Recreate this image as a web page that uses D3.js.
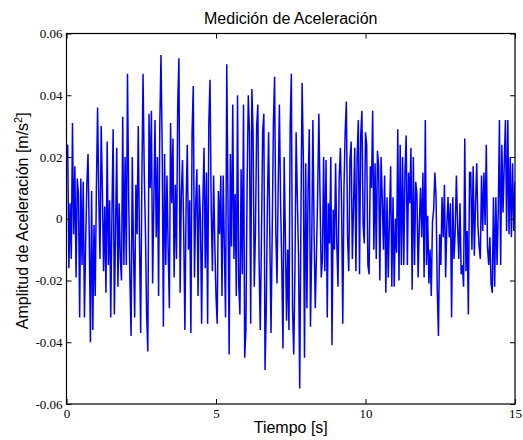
<!DOCTYPE html>
<html>
<head>
<meta charset="utf-8">
<script src="https://cdn.jsdelivr.net/npm/d3@7"></script>
<style>
  html, body { margin: 0; padding: 0; background: #fff; }
  svg { display: block; }
</style>
</head>
<body>
<svg id="chart" width="523" height="440"></svg>
<script>
// ---- data ----
const titleText = "Medición de Aceleración";
const xLabelText = "Tiempo [s]";
const sampleStep = 0.04;          // seconds between samples
const xTicks = [0, 5, 10, 15];
const yTicks = [-0.06, -0.04, -0.02, 0, 0.02, 0.04, 0.06];
const xDomain = [0, 15];
const yDomain = [-0.06, 0.06];
// acceleration amplitude [m/s^2], one value every 0.04 s from 0 to 15 s
const accel = [
  // 0 s
  .020,.024,-.016,.005,-.013,.031,-.005,.017,-.019,.013,.008,-.032,.013,-.015,.012,-.032,-.008,.011,.021,-.005,-.040,.009,-.036,-.002,-.025,
  // 1 s
  .010,.036,.007,-.013,.030,.009,-.017,.004,-.024,.025,-.015,.006,-.032,.002,.029,-.031,-.004,.023,-.022,.005,-.013,-.020,.033,-.015,.020,
  // 2 s
  -.015,.047,.007,-.019,-.038,.020,-.010,-.032,.011,-.005,.030,-.006,-.037,.012,.047,.015,-.004,-.031,-.043,.034,.010,.035,-.021,.005,.032,
  // 3 s
  -.006,.020,-.025,.030,.053,.023,-.035,.021,-.015,.014,-.010,-.029,.031,.005,.026,-.019,.011,-.013,.037,.052,-.024,.008,.019,-.004,-.036,
  // 4 s
  .005,.024,-.010,.006,-.037,.028,.043,-.019,.004,.016,-.025,.011,.000,-.034,.005,.023,-.016,.015,-.034,.031,.045,.003,-.017,.014,-.008,
  // 5 s
  -.025,-.034,.009,-.005,.014,-.025,.014,-.010,-.032,.050,.007,-.044,.021,-.009,.037,-.013,.008,-.025,.040,-.021,-.031,.016,-.018,.037,-.045,
  // 6 s
  -.036,.010,.040,.028,-.034,.042,.028,-.022,-.004,.030,.037,-.013,-.036,-.007,.028,.034,-.049,-.030,.005,.028,-.006,-.037,-.004,.031,.046,
  // 7 s
  -.004,-.021,.010,.037,.005,-.015,-.042,.020,-.006,-.033,-.010,-.036,.030,.047,-.029,-.044,-.017,.028,.007,-.012,-.055,.000,.044,.020,-.045,
  // 8 s
  .018,-.029,.010,.029,-.035,-.010,.032,-.004,-.029,-.012,.008,.034,.007,-.019,-.013,.020,-.017,.019,-.032,.005,-.008,.020,-.041,.003,-.010,
  // 9 s
  .018,-.008,-.022,.013,.023,.005,-.034,.010,.028,.038,-.006,-.017,.019,.025,-.013,.004,.023,-.017,.020,.032,-.018,.027,.035,-.002,-.008,
  // 10 s
  .028,.024,-.015,-.018,.017,.010,.035,-.010,.018,-.013,.022,.017,-.020,.020,.007,-.010,.014,-.024,.007,-.019,.000,.017,-.022,.007,-.022,
  // 11 s
  .000,-.011,.029,-.020,.024,-.015,.020,-.015,.015,.027,-.015,.015,.005,.023,-.023,.020,-.015,.012,.008,-.019,-.002,.010,-.006,.015,-.019,
  // 12 s
  .032,-.015,.001,-.021,-.010,-.025,-.001,.003,.015,.007,-.023,-.038,-.005,-.015,.007,-.006,.011,-.019,-.002,.007,-.006,.005,-.032,.007,-.013,
  // 13 s
  -.004,.014,-.002,-.013,.005,-.018,-.015,-.022,.026,-.017,-.004,-.031,.015,.015,-.010,.017,-.012,.005,.018,-.002,-.009,-.013,.014,-.004,.015,
  // 14 s
  -.002,.024,-.009,-.015,-.006,-.021,-.024,.007,-.022,.007,-.015,.002,.032,-.015,.024,.002,.018,.032,-.004,.032,-.005,.020,-.006,.018,-.004,
  // 15 s
  .012
];

// ---- layout ----
const plot = { left: 66.5, right: 515, top: 33.5, bottom: 404 };
const svg = d3.select("#chart");

const x = d3.scaleLinear().domain(xDomain).range([plot.left, plot.right]);
const y = d3.scaleLinear().domain(yDomain).range([plot.bottom, plot.top]);

const fmtY = d => d === 0 ? "0" : d.toFixed(2);
const fmtX = d => String(d);

svg.append("clipPath").attr("id", "clip")
  .append("rect")
  .attr("x", plot.left).attr("y", plot.top)
  .attr("width", plot.right - plot.left).attr("height", plot.bottom - plot.top);

// data line
const points = accel.map((v, i) => [i * sampleStep, v]);
svg.append("path")
  .datum(points)
  .attr("clip-path", "url(#clip)")
  .attr("fill", "none")
  .attr("stroke", "#0000ff")
  .attr("stroke-width", 1.5)
  .attr("stroke-linejoin", "miter")
  .attr("stroke-miterlimit", 2)
  .attr("d", d3.line().x(d => x(d[0])).y(d => y(d[1])));

const tickLen = 5;
function styleAxis(g, showLabels) {
  g.select(".domain").remove();
  g.selectAll(".tick line").attr("stroke", "#000").attr("stroke-width", 1);
  g.selectAll(".tick text")
    .attr("fill", "#000")
    .style("font-family", "'Liberation Serif', 'Times New Roman', serif")
    .style("font-size", "13px");
  if (!showLabels) g.selectAll(".tick text").remove();
}

// bottom axis (with labels)
svg.append("g")
  .attr("transform", `translate(0,${plot.bottom})`)
  .call(d3.axisBottom(x).tickValues(xTicks).tickFormat(fmtX).tickSizeInner(-tickLen).tickSizeOuter(0).tickPadding(5))
  .call(g => styleAxis(g, true));
// top axis (ticks only)
svg.append("g")
  .attr("transform", `translate(0,${plot.top})`)
  .call(d3.axisTop(x).tickValues(xTicks).tickSizeInner(-tickLen).tickSizeOuter(0))
  .call(g => styleAxis(g, false));
// left axis (with labels)
svg.append("g")
  .attr("transform", `translate(${plot.left},0)`)
  .call(d3.axisLeft(y).tickValues(yTicks).tickFormat(fmtY).tickSizeInner(-tickLen).tickSizeOuter(0).tickPadding(4))
  .call(g => styleAxis(g, true));
// right axis (ticks only)
svg.append("g")
  .attr("transform", `translate(${plot.right},0)`)
  .call(d3.axisRight(y).tickValues(yTicks).tickSizeInner(-tickLen).tickSizeOuter(0))
  .call(g => styleAxis(g, false));

// box
svg.append("rect")
  .attr("x", plot.left).attr("y", plot.top)
  .attr("width", plot.right - plot.left).attr("height", plot.bottom - plot.top)
  .attr("fill", "none").attr("stroke", "#000").attr("stroke-width", 1.2);

const sans = "'Liberation Sans', Arial, Helvetica, sans-serif";

// title
svg.append("text")
  .attr("x", (plot.left + plot.right) / 2).attr("y", 24)
  .attr("text-anchor", "middle")
  .style("font-family", sans).style("font-size", "16px")
  .text(titleText);

// x label
svg.append("text")
  .attr("x", (plot.left + plot.right) / 2).attr("y", 433)
  .attr("text-anchor", "middle")
  .style("font-family", sans).style("font-size", "16px")
  .text(xLabelText);

// y label with superscript
const yl = svg.append("text")
  .attr("transform", `translate(28,${(plot.top + plot.bottom) / 2 + 2}) rotate(-90)`)
  .attr("text-anchor", "middle")
  .style("font-family", sans).style("font-size", "16px");
yl.append("tspan").text("Amplitud de Aceleración [m/s");
yl.append("tspan").attr("dy", -6).style("font-size", "11px").text("2");
yl.append("tspan").attr("dy", 6).text("]");
</script>
</body>
</html>
